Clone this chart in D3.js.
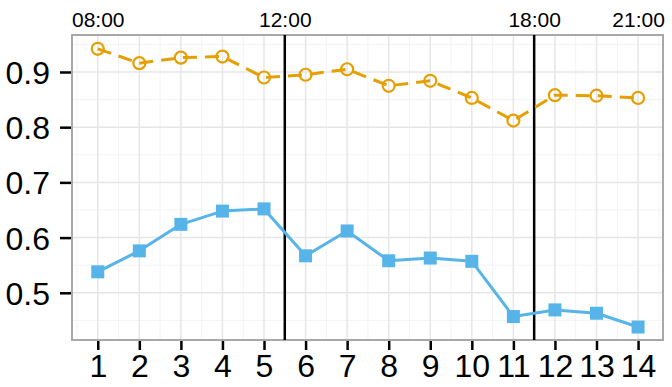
<!DOCTYPE html>
<html>
<head>
<meta charset="utf-8">
<script src="https://cdn.jsdelivr.net/npm/d3@7"></script>
<style>
  body { margin: 0; background: #fff; }
  text { font-family: "Liberation Sans", Arial, sans-serif; }
</style>
</head>
<body>
<svg width="672" height="387"></svg>
<script>
// data
const categories = [1, 2, 3, 4, 5, 6, 7, 8, 9, 10, 11, 12, 13, 14];
const upperValues = [0.942, 0.916, 0.926, 0.928, 0.890, 0.895, 0.905, 0.875, 0.884, 0.853, 0.812, 0.858, 0.857, 0.853];
const lowerValues = [0.538, 0.576, 0.624, 0.648, 0.652, 0.567, 0.612, 0.558, 0.563, 0.557, 0.457, 0.469, 0.463, 0.438];
const yTicks = [0.5, 0.6, 0.7, 0.8, 0.9];
const timeMarks = [
  { at: 1, label: "08:00", line: false },
  { at: 5.5, label: "12:00", line: true },
  { at: 11.5, label: "18:00", line: true },
  { at: 14, label: "21:00", line: false }
];

const svg = d3.select("svg");
const margin = { top: 35, right: 9, bottom: 47, left: 72 };
const width = 672 - margin.left - margin.right;
const height = 387 - margin.top - margin.bottom;
const g = svg.append("g").attr("transform", "translate(" + margin.left + "," + margin.top + ")");

let x = d3.scaleLinear().domain([0.38, 14.6]).range([0, width]);
let y = d3.scaleLinear().domain([0.4145, 0.967]).range([height, 0]);

// minor grid
let minorX = d3.range(0.5, 15, 1);
let minorY = d3.range(0.45, 0.96, 0.1);
g.selectAll(".minx").data(minorX).enter().append("line")
  .attr("x1", d => x(d)).attr("x2", d => x(d)).attr("y1", 0).attr("y2", height)
  .attr("stroke", "#f3f3f3").attr("stroke-width", 1);
g.selectAll(".miny").data(minorY).enter().append("line")
  .attr("y1", d => y(d)).attr("y2", d => y(d)).attr("x1", 0).attr("x2", width)
  .attr("stroke", "#f3f3f3").attr("stroke-width", 1);
// major grid
g.selectAll(".majx").data(categories).enter().append("line")
  .attr("x1", d => x(d)).attr("x2", d => x(d)).attr("y1", 0).attr("y2", height)
  .attr("stroke", "#e6e6e6").attr("stroke-width", 1.5);
g.selectAll(".majy").data(yTicks).enter().append("line")
  .attr("y1", d => y(d)).attr("y2", d => y(d)).attr("x1", 0).attr("x2", width)
  .attr("stroke", "#e6e6e6").attr("stroke-width", 1.5);

// axes
let yAxis = g.append("g")
  .call(d3.axisLeft(y).tickValues(yTicks).tickFormat(d3.format(".1f")).tickSize(12).tickPadding(10));
yAxis.select(".domain").remove();
yAxis.selectAll("line").attr("stroke", "#000").attr("stroke-width", 2.5);
yAxis.selectAll("text").attr("font-size", 32).attr("fill", "#000").attr("dy", "0.36em");

let xAxis = g.append("g").attr("transform", "translate(0," + height + ")")
  .call(d3.axisBottom(x).tickValues(categories).tickFormat(d3.format("d")).tickSize(10).tickPadding(4));
xAxis.select(".domain").remove();
xAxis.selectAll("line").attr("stroke", "#000").attr("stroke-width", 2.5);
xAxis.selectAll("text").attr("font-size", 32).attr("fill", "#000").attr("dy", "0.71em");

// top time labels
let topAxis = g.append("g")
  .call(d3.axisTop(x).tickValues(timeMarks.map(d => d.at))
    .tickFormat((d, i) => timeMarks[i].label).tickSize(0).tickPadding(8));
topAxis.select(".domain").remove();
topAxis.selectAll("text").attr("font-size", 21).attr("fill", "#000");

// panel border
g.append("rect").attr("width", width).attr("height", height)
  .attr("fill", "none").attr("stroke", "#a8a8a8").attr("stroke-width", 2);

// vertical time separators
g.selectAll(".sep").data(timeMarks.filter(d => d.line)).enter().append("line")
  .attr("x1", d => x(d.at)).attr("x2", d => x(d.at)).attr("y1", 0).attr("y2", height)
  .attr("stroke", "#000").attr("stroke-width", 2.5);

let line = d3.line().x((d, i) => x(categories[i])).y(d => y(d));

g.append("path").datum(lowerValues)
  .attr("fill", "none").attr("stroke", "#56B4E9").attr("stroke-width", 3)
  .attr("stroke-linejoin", "round").attr("d", line);
g.selectAll(".sq").data(lowerValues).enter().append("rect")
  .attr("x", (d, i) => x(categories[i]) - 6.5).attr("y", d => y(d) - 6.5)
  .attr("width", 13).attr("height", 13).attr("fill", "#56B4E9");

g.append("path").datum(upperValues)
  .attr("fill", "none").attr("stroke", "#E69F00").attr("stroke-width", 3)
  .attr("stroke-dasharray", "14 8").attr("d", line);
g.selectAll(".ci").data(upperValues).enter().append("circle")
  .attr("cx", (d, i) => x(categories[i])).attr("cy", d => y(d)).attr("r", 6)
  .attr("fill", "none").attr("stroke", "#E69F00").attr("stroke-width", 2.2);
</script>
</body>
</html>
